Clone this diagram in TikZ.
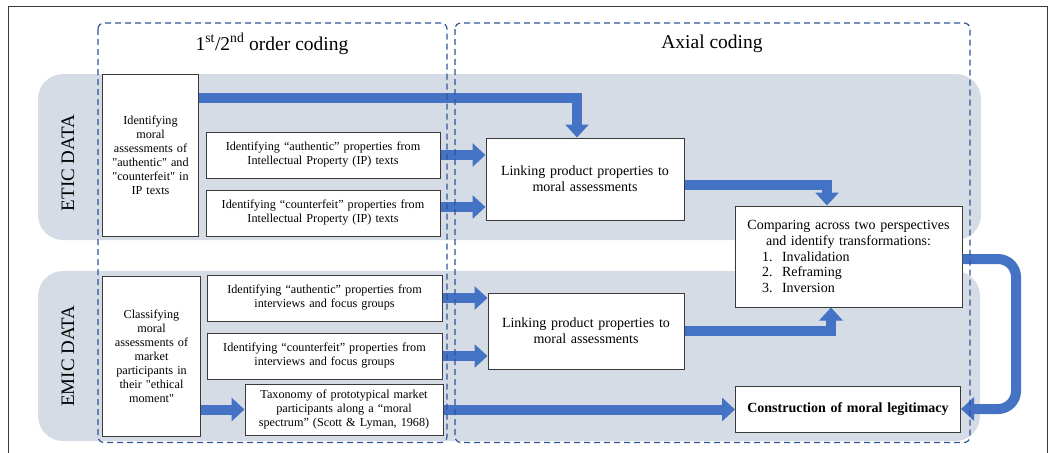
\documentclass[tikz,border=0pt]{standalone}
\usepackage{fontspec}
\setmainfont{Liberation Serif}[Ligatures=TeXOff]
\usepackage{xcolor}
\usepackage{tikz}
\usetikzlibrary{arrows.meta,positioning,calc}

\definecolor{flowblue}{HTML}{4472C4}
\definecolor{bandgray}{HTML}{D6DCE5}
\definecolor{frameblue}{HTML}{2F5597}
\definecolor{edgegray}{HTML}{3A3A3A}

\begin{document}
\begin{tikzpicture}[x=1pt,y=-1pt,
  box/.style={draw=edgegray, line width=1pt, fill=white, inner sep=2pt, align=center, font=\fontsize{12.2}{14}\selectfont},
  bigbox/.style={box, font=\fontsize{14}{15.7}\selectfont},
  flow/.style={draw=flowblue, line width=10pt, -{Triangle[width=23pt,length=13pt]}},
  band/.style={fill=bandgray, rounded corners=25pt},
  codingframe/.style={draw=frameblue, line width=1.2pt, dash pattern=on 6pt off 4pt, rounded corners=6pt},
  title/.style={font=\fontsize{19.5}{22}\selectfont},
  sidelabel/.style={font=\fontsize{19}{22}\selectfont, rotate=90},
]
  \useasboundingbox (0,0) rectangle (1051,452);
  \draw[edgegray, line width=1pt] (8,460) -- (8,7) -- (1047,7) -- (1047,460);

  % data bands
  \fill[band] (38,74) rectangle (981,240);
  \fill[band] (38,271) rectangle (980,441);
  \node[sidelabel] (eticlabel) at (68,163) {ETIC DATA};
  \node[sidelabel] (emiclabel) at (68,356) {EMIC DATA};

  % etic data
  \node[box, minimum width=96pt, minimum height=162pt, text width=88pt] (idE) at (150.5,155)
    {Identifying\\moral\\assessments of\\"authentic" and\\"counterfeit" in\\IP texts};
  \node[box, minimum width=234pt, minimum height=46pt, text width=222pt] (auE) at (323,155)
    {Identifying “authentic” properties from\\Intellectual Property (IP) texts};
  \node[box, minimum width=234pt, minimum height=46pt, text width=222pt] (cfE) at (323,213)
    {Identifying “counterfeit” properties from\\Intellectual Property (IP) texts};
  \node[bigbox, minimum width=198pt, minimum height=82pt, text width=186pt] (linkE) at (585,179)
    {Linking product properties to\\moral assessments};
  \node[bigbox, minimum width=227pt, minimum height=101pt, text width=215pt] (cmp) at (848.5,256.5)
    {Comparing across two perspectives\\and identify transformations:\\
     \makebox[173pt][l]{\makebox[20pt][l]{1.}Invalidation}\\
     \makebox[173pt][l]{\makebox[20pt][l]{2.}Reframing}\\
     \makebox[173pt][l]{\makebox[20pt][l]{3.}Inversion}};

  % emic data
  \node[box, minimum width=98pt, minimum height=160pt, text width=90pt] (idM) at (151.5,356)
    {Classifying\\moral\\assessments of\\market\\participants in\\their "ethical\\moment"};
  \node[box, minimum width=235pt, minimum height=46pt, text width=222pt] (auM) at (324.5,298)
    {Identifying “authentic” properties from\\interviews and focus groups};
  \node[box, minimum width=235pt, minimum height=46pt, text width=222pt] (cfM) at (324.5,356)
    {Identifying “counterfeit” properties from\\interviews and focus groups};
  \node[box, minimum width=198pt, minimum height=51pt, text width=190pt] (tax) at (344,409.5)
    {Taxonomy of prototypical market\\participants along a “moral\\spectrum” (Scott \& Lyman, 1968)};
  \node[bigbox, minimum width=196pt, minimum height=76pt, text width=186pt] (linkM) at (586,331)
    {Linking product properties to\\moral assessments};
  \node[bigbox, font=\fontsize{14}{16}\selectfont\bfseries, minimum width=225pt, minimum height=46pt, text width=215pt] (con) at (848,409)
    {Construction of moral legitimacy};

  % flows
  \draw[flow] ([yshift=-24pt]idE.north east) -| ([xshift=-8pt]linkE.north);
  \draw[flow] (auE.east) -- (auE.east -| linkE.west);
  \draw[flow] ([yshift=6pt]cfE.east) -- ([yshift=6pt]cfE.east -| linkE.west);
  \draw[flow] ([yshift=-6pt]linkE.east) -| ([xshift=-21.5pt]cmp.north);
  \draw[flow] (auM.east) -- (auM.east -| linkM.west);
  \draw[flow] (cfM.east) -- (cfM.east -| linkM.west);
  \draw[flow] (linkM.east) -| ([xshift=-17.5pt]cmp.south);
  \draw[flow] (idM.east |- tax.west) -- (tax.west);
  \draw[flow] (tax.east) -- (tax.east -| con.west);
  \coordinate (loopx) at (1016,0);
  \draw[flow, rounded corners=18pt] ([yshift=-2.5pt]cmp.east) -- ([yshift=-2.5pt]cmp.east -| loopx)
    -- (con.east -| loopx) -- (con.east);

  % coding stages
  \draw[codingframe] (98,23) rectangle (447,442.5);
  \draw[codingframe] (455,23) rectangle (970,442.5);
  \node[title] (firstorder) at (272,44) {1\textsuperscript{st}/2\textsuperscript{nd} order coding};
  \node[title] (axial) at (712,44) {Axial coding};
\end{tikzpicture}
\end{document}
